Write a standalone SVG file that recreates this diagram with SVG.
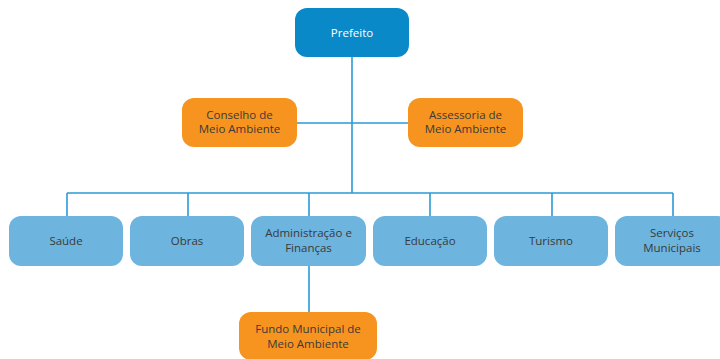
<svg xmlns="http://www.w3.org/2000/svg" width="720" height="359" viewBox="0 0 720 359">
<style>
.top{fill:#0a89c8}
.org{fill:#f7941f}
.dep{fill:#6db4df}
.lbl{font-family:"Open Sans","Noto Sans",sans-serif;font-size:11.5px;fill:#3a3a3a;text-anchor:middle}
.wt{fill:#ffffff}
.ln{stroke:#2b9ad6;stroke-width:1.6;fill:none}
</style>
<rect width="720" height="359" fill="#ffffff"/>
<g id="connectors">
<path class="ln" d="M352 57V193M297 123H408M67 193H673M67 193V216M188 193V216M309 193V216M430 193V216M552 193V216M673 193V216M309 266V312"/>
</g>
<g id="prefeito"><rect class="top" x="295" y="8" width="114" height="49" rx="12"/><text class="lbl wt" x="352" y="37">Prefeito</text></g>
<g id="conselho"><rect class="org" x="182" y="98" width="115" height="49" rx="12"/><text class="lbl" x="239.5" y="119">Conselho de</text><text class="lbl" x="239.5" y="133">Meio Ambiente</text></g>
<g id="assessoria"><rect class="org" x="408" y="98" width="115" height="49" rx="12"/><text class="lbl" x="465.5" y="119">Assessoria de</text><text class="lbl" x="465.5" y="133">Meio Ambiente</text></g>
<g id="saude"><rect class="dep" x="9" y="216" width="114" height="50" rx="12"/><text class="lbl" x="66" y="245">Saúde</text></g>
<g id="obras"><rect class="dep" x="130" y="216" width="114" height="50" rx="12"/><text class="lbl" x="187" y="245">Obras</text></g>
<g id="administracao"><rect class="dep" x="251" y="216" width="115" height="50" rx="12"/><text class="lbl" x="308.5" y="237">Administração e</text><text class="lbl" x="308.5" y="252">Finanças</text></g>
<g id="educacao"><rect class="dep" x="373" y="216" width="114" height="50" rx="12"/><text class="lbl" x="430" y="245">Educação</text></g>
<g id="turismo"><rect class="dep" x="494" y="216" width="114" height="50" rx="12"/><text class="lbl" x="551" y="245">Turismo</text></g>
<g id="servicos"><rect class="dep" x="615" y="216" width="114" height="50" rx="12"/><text class="lbl" x="672" y="237">Serviços</text><text class="lbl" x="672" y="252">Municipais</text></g>
<g id="fundo"><rect class="org" x="239" y="312" width="138" height="48" rx="12"/><text class="lbl" x="308" y="333">Fundo Municipal de</text><text class="lbl" x="308" y="348">Meio Ambiente</text></g>
</svg>
